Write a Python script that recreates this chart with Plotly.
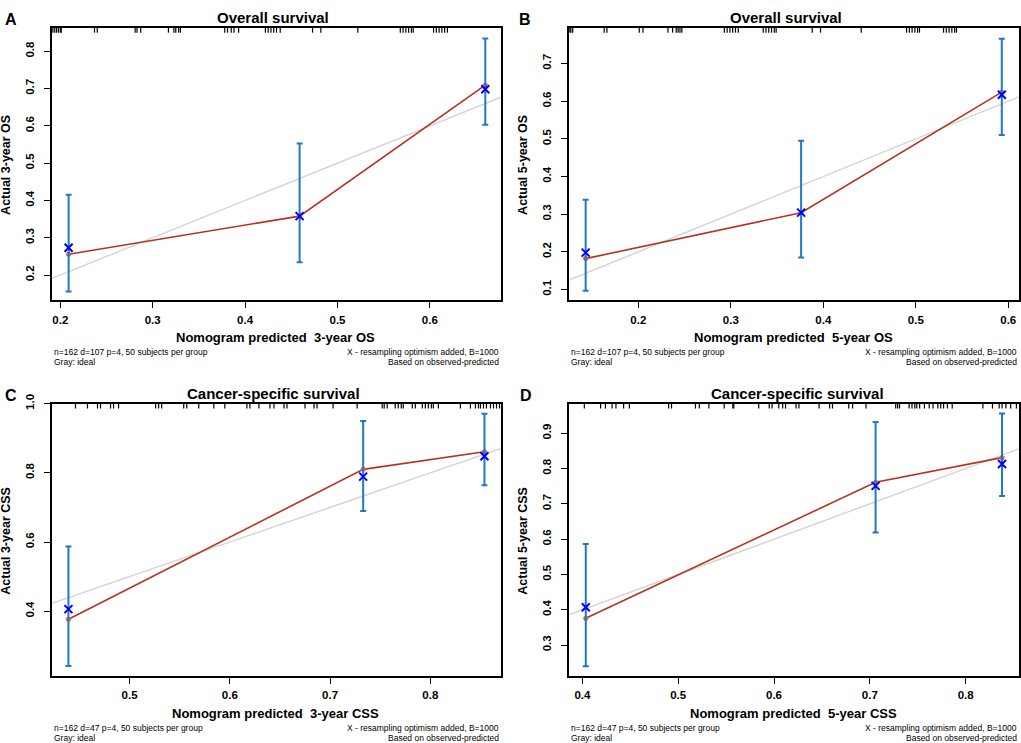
import plotly.graph_objects as go
from plotly.subplots import make_subplots

# ---- data ----
# A: 3-year OS
a_pred = [0.209, 0.459, 0.660]
a_obs = [0.256, 0.358, 0.709]
a_corr = [0.273, 0.358, 0.698]
a_lo = [0.156, 0.234, 0.603]
a_hi = [0.415, 0.553, 0.834]
a_rug = [0.192, 0.194, 0.196, 0.198, 0.200, 0.201, 0.237, 0.240, 0.281, 0.283, 0.287,
         0.317, 0.323, 0.325, 0.328, 0.330, 0.378, 0.381, 0.385, 0.388, 0.393,
         0.422, 0.425, 0.428, 0.431, 0.434, 0.438, 0.473, 0.482, 0.522,
         0.568, 0.571, 0.574, 0.577, 0.580, 0.582, 0.604, 0.607, 0.610, 0.613, 0.616, 0.619]

# B: 5-year OS
b_pred = [0.143, 0.376, 0.593]
b_obs = [0.182, 0.304, 0.624]
b_corr = [0.198, 0.304, 0.617]
b_lo = [0.097, 0.185, 0.510]
b_hi = [0.338, 0.495, 0.766]
b_rug = [0.126, 0.127, 0.129, 0.163, 0.166, 0.201, 0.205, 0.232, 0.237, 0.241, 0.243,
         0.245, 0.247, 0.293, 0.296, 0.299, 0.302, 0.305, 0.308, 0.335, 0.338, 0.341,
         0.344, 0.347, 0.349, 0.388, 0.397, 0.441, 0.490, 0.493, 0.496, 0.499, 0.502,
         0.504, 0.530, 0.533, 0.536, 0.539, 0.542, 0.544]

# C: 3-year CSS
c_pred = [0.439, 0.733, 0.854]
c_obs = [0.377, 0.810, 0.861]
c_corr = [0.406, 0.789, 0.848]
c_lo = [0.242, 0.690, 0.764]
c_hi = [0.587, 0.950, 0.971]
c_rug = [0.446, 0.458, 0.468, 0.471, 0.481, 0.484, 0.489, 0.526, 0.529, 0.532, 0.554,
         0.557, 0.569, 0.584, 0.595, 0.617, 0.620, 0.629, 0.640, 0.644, 0.654, 0.657,
         0.675, 0.684, 0.687, 0.703, 0.727, 0.752, 0.754, 0.757, 0.765, 0.768, 0.771,
         0.773, 0.782, 0.785, 0.792, 0.795, 0.798, 0.801, 0.803, 0.808, 0.830, 0.840,
         0.845, 0.848, 0.850, 0.853, 0.856, 0.860, 0.863, 0.866, 0.869]

# D: 5-year CSS
d_pred = [0.4035, 0.706, 0.838]
d_obs = [0.376, 0.761, 0.831]
d_corr = [0.407, 0.751, 0.813]
d_lo = [0.240, 0.619, 0.722]
d_hi = [0.586, 0.932, 0.956]
d_rug = [0.402, 0.419, 0.424, 0.431, 0.435, 0.443, 0.449, 0.490, 0.493, 0.518, 0.522,
         0.532, 0.548, 0.557, 0.558, 0.584, 0.595, 0.598, 0.605, 0.609, 0.612, 0.623,
         0.626, 0.647, 0.658, 0.661, 0.678, 0.682, 0.696, 0.727, 0.729, 0.731, 0.741,
         0.744, 0.747, 0.749, 0.752, 0.757, 0.762, 0.766, 0.771, 0.774, 0.777, 0.781,
         0.786, 0.818, 0.828, 0.835, 0.838, 0.842, 0.847, 0.853]

panels = [
    dict(pred=a_pred, obs=a_obs, corr=a_corr, lo=a_lo, hi=a_hi, rug=a_rug,
         xr=[0.191, 0.677], yr=[0.133, 0.863], xt=[0.2, 0.3, 0.4, 0.5, 0.6], yt=[0.2, 0.3, 0.4, 0.5, 0.6, 0.7, 0.8],
         title="Overall survival", xlab="Nomogram predicted&nbsp; 3-year OS", ylab="Actual 3-year OS",
         note="n=162 d=107 p=4, 50 subjects per group", letter="A"),
    dict(pred=b_pred, obs=b_obs, corr=b_corr, lo=b_lo, hi=b_hi, rug=b_rug,
         xr=[0.125, 0.6116], yr=[0.072, 0.795], xt=[0.2, 0.3, 0.4, 0.5, 0.6], yt=[0.1, 0.2, 0.3, 0.4, 0.5, 0.6, 0.7],
         title="Overall survival", xlab="Nomogram predicted&nbsp; 5-year OS", ylab="Actual 5-year OS",
         note="n=162 d=107 p=4, 50 subjects per group", letter="B"),
    dict(pred=c_pred, obs=c_obs, corr=c_corr, lo=c_lo, hi=c_hi, rug=c_rug,
         xr=[0.4226, 0.8705], yr=[0.213, 1.0], xt=[0.5, 0.6, 0.7, 0.8], yt=[0.4, 0.6, 0.8, 1.0],
         title="Cancer-specific survival", xlab="Nomogram predicted&nbsp; 3-year CSS", ylab="Actual 3-year CSS",
         note="n=162 d=47 p=4, 50 subjects per group", letter="C"),
    dict(pred=d_pred, obs=d_obs, corr=d_corr, lo=d_lo, hi=d_hi, rug=d_rug,
         xr=[0.386, 0.8557], yr=[0.2125, 0.984], xt=[0.4, 0.5, 0.6, 0.7, 0.8], yt=[0.3, 0.4, 0.5, 0.6, 0.7, 0.8, 0.9],
         title="Cancer-specific survival", xlab="Nomogram predicted&nbsp; 5-year CSS", ylab="Actual 5-year CSS",
         note="n=162 d=47 p=4, 50 subjects per group", letter="D"),
]

W, H = 1021, 743
FONT = "Liberation Sans, Arial, sans-serif"
RED = "#b8321f"
DOT = "#e8602c"
BAR = "#1f78c8"
GRAY = "#d6d6d6"

# pixel boxes of each plot region (left, right, top, bottom)
boxes = [(52, 501, 18, 294), (569, 1019, 18, 294), (52, 501, 399, 675), (569, 1019, 399, 675)]
title_x = [273, 786, 273, 797]
letter_x = [10.5, 525, 10.5, 525.5]

def px(x):
    return x / W

def py(y):
    return 1 - y / H

fig = make_subplots(rows=2, cols=2)

for i, p in enumerate(panels):
    r, c = i // 2 + 1, i % 2 + 1
    fig.add_trace(go.Scatter(x=p["xr"], y=p["xr"], mode="lines",
                             line=dict(color=GRAY, width=1.5), showlegend=False, hoverinfo="skip"), row=r, col=c)
    fig.add_trace(go.Scatter(x=p["pred"], y=p["obs"], mode="lines+markers",
                             line=dict(color=RED, width=1.6), marker=dict(color=DOT, size=5),
                             showlegend=False), row=r, col=c)
    fig.add_trace(go.Scatter(x=p["pred"], y=p["lo"], mode="markers", marker=dict(opacity=0),
                             error_y=dict(type="data", symmetric=False,
                                          array=[h - l for h, l in zip(p["hi"], p["lo"])],
                                          arrayminus=[0] * len(p["lo"]),
                                          color=BAR, thickness=2, width=3),
                             showlegend=False), row=r, col=c)
    fig.add_trace(go.Scatter(x=p["pred"], y=p["corr"], mode="markers",
                             marker=dict(symbol="x-thin", size=8, line=dict(color="#0000ff", width=2)),
                             showlegend=False), row=r, col=c)

    ax = "" if i == 0 else str(i + 1)
    for v in p["rug"]:
        fig.add_shape(type="line", xref="x" + ax, yref="y" + ax + " domain",
                      x0=v, x1=v, y0=1, y1=0.982, line=dict(color="black", width=1.2))

    l, rr, t, b = boxes[i]
    axis_common = dict(showgrid=False, zeroline=False, showline=True, linecolor="black", linewidth=1.5,
                       mirror=True, ticks="outside", ticklen=6, tickwidth=1, tickcolor="black",
                       tickfont=dict(family=FONT, size=11.5, color="black", weight="bold"),
                       tickformat=".1f")
    fig.update_xaxes(range=p["xr"], tickvals=p["xt"], domain=[px(l), px(rr)], ticklabelstandoff=2,
                     row=r, col=c, **axis_common)
    fig.update_yaxes(range=p["yr"], tickvals=p["yt"], domain=[py(b), py(t)], tickangle=-90,
                     ticklabelstandoff=6, row=r, col=c, **axis_common)

    cx = (l + rr) / 2
    ann = [
        dict(x=px(title_x[i]), y=py(t - 10), text=p["title"], font=dict(size=15, weight="bold"), yanchor="middle"),
        dict(x=px(letter_x[i]), y=py(t - 8), text=p["letter"], font=dict(size=16, weight="bold"), yanchor="middle"),
        dict(x=px(cx - 1), y=py(b + 38), text=p["xlab"], font=dict(size=13, weight="bold"), yanchor="middle"),
        dict(x=px(l - 46), y=py((t + b) / 2 + 1), text=p["ylab"], font=dict(size=12.5, weight="bold"),
             textangle=-90, xanchor="center", yanchor="middle"),
        dict(x=px(l), y=py(b + 53), text=p["note"], xanchor="left", yanchor="middle", font=dict(size=8.5)),
        dict(x=px(l), y=py(b + 62.5), text="Gray: ideal", xanchor="left", yanchor="middle", font=dict(size=8.5)),
        dict(x=px(rr), y=py(b + 53), text="X - resampling optimism added, B=1000", xanchor="right",
             yanchor="middle", font=dict(size=8.5)),
        dict(x=px(rr), y=py(b + 62.5), text="Based on observed-predicted", xanchor="right",
             yanchor="middle", font=dict(size=8.5)),
    ]
    for a in ann:
        a.setdefault("xanchor", "center")
        a["font"] = dict(family=FONT, color="black", **a["font"])
        fig.add_annotation(xref="paper", yref="paper", showarrow=False, **a)

fig.update_layout(width=W, height=H, margin=dict(l=0, r=0, t=0, b=0),
                  plot_bgcolor="white", paper_bgcolor="white", showlegend=False,
                  font=dict(family=FONT, color="black"))

# page margin would push the figure off the window
fig.write_html("out.html", config={"displayModeBar": False},
               post_script="document.body.style.margin='0';document.body.style.overflow='hidden';")
